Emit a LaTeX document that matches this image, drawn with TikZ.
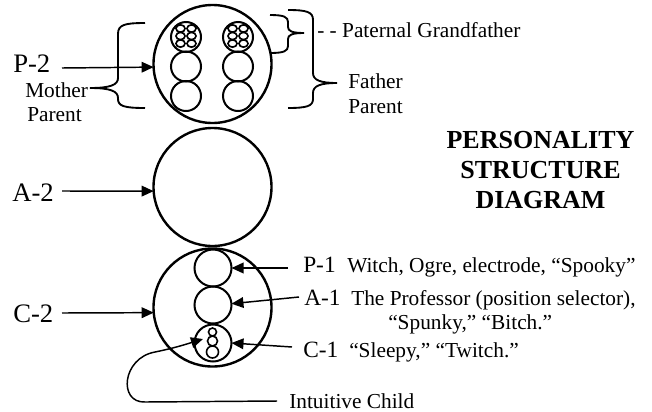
\documentclass[tikz,border=0pt]{standalone}
\usepackage{fontspec}
\setmainfont{Liberation Serif}
\usetikzlibrary{arrows.meta}
\begin{document}
\begin{tikzpicture}[x=0.75pt,y=-0.75pt,
  bigc/.style={circle,draw,line width=1.8pt,minimum size=88.5pt,inner sep=0pt,outer sep=0pt},
  midc/.style={circle,draw,line width=1.5pt,minimum size=22.5pt,inner sep=0pt,outer sep=0pt},
  kidc/.style={circle,draw,line width=1.5pt,minimum size=27.75pt,inner sep=0pt,outer sep=0pt},
  tinyc/.style={draw,line width=1.2pt},
  brace/.style={draw,line width=1.4pt},
  arr/.style={draw,line width=1.1pt,-{Triangle[length=9pt,width=8pt]}},
  biglab/.style={inner sep=0pt,anchor=base west,font=\fontsize{20}{24}\selectfont},
  rlab/.style={inner sep=0pt,anchor=base west,font=\fontsize{17.5}{20}\selectfont},
  txt/.style={inner sep=0pt,anchor=base west,font=\fontsize{16}{18}\selectfont},
  ttl/.style={inner sep=0pt,anchor=base,font=\fontsize{19.5}{22}\selectfont\bfseries}]
\useasboundingbox (0,0) rectangle (652,411);

% big circles
\node[bigc] (P2) at (212.5,64) {};
\node[bigc] (A2) at (212.5,187) {};
\node[bigc] (C2) at (212.5,307.5) {};

% P-2 inner circles
\node[midc] (Lg) at (186,37) {};
\node[midc] (Lm) at (186,66.5) {};
\node[midc] (Lb) at (186,96) {};
\node[midc] (Rg) at (238,37) {};
\node[midc] (Rm) at (238,66.5) {};
\node[midc] (Rb) at (238,96) {};
\foreach \cx in {186,238}{
  \foreach \dx in {-5.5,5.5}{
    \foreach \cy in {28.5,36,43.5}{
      \draw[tinyc] (\cx+\dx,\cy) ellipse [x radius=3.4pt, y radius=2.75pt];
    }
  }
}

% C-2 inner circles
\node[kidc] (P1) at (213,268) {};
\node[kidc] (A1) at (213,305) {};
\node[kidc] (C1) at (213,343) {};
\draw[tinyc] (212.5,332) circle [radius=3pt];
\draw[tinyc] (212.5,341) circle [radius=3.75pt];
\draw[tinyc] (212.5,352) circle [radius=4.5pt];

% left labels
\node[biglab] (P2lab) at (13,72) {P-2};
\node[biglab] (A2lab) at (12,201.5) {A-2};
\node[biglab] (C2lab) at (13,322) {C-2};
\coordinate (p2s) at (62,68);
\coordinate (a2s) at (62,191);
\coordinate (c2s) at (62,313);
\draw[arr] (p2s) -- (P2.183.5);
\draw[arr] (a2s) -- (A2.184);
\draw[arr] (c2s) -- (C2.185);

% mother parent
\node[txt] (moth) at (25,97) {Mother};
\node[txt] (mpar) at (27,121) {Parent};
\draw[brace] (145,23) .. controls (124,23) and (118,25) .. (118,34) -- (118,78)
  .. controls (118,85) and (110,88) .. (90,88)
  .. controls (110,88) and (118,91) .. (118,98) -- (118,99)
  .. controls (118,106) and (124,108) .. (145,108);

% paternal grandfather brace
\draw[brace] (270,15) .. controls (284,15) and (288,17) .. (288,22) -- (288,27)
  .. controls (288,31) and (292,33) .. (304,33)
  .. controls (292,33) and (288,35) .. (288,39) -- (288,46)
  .. controls (288,51) and (284,53) .. (270,53);
\node[txt] (pgf) at (317,37) {- - Paternal Grandfather};

% father parent brace
\draw[brace] (288,10) .. controls (307,10) and (313,12) .. (313,20) -- (313,73)
  .. controls (313,80) and (320,83) .. (337,83)
  .. controls (320,83) and (313,86) .. (313,93) -- (313,99)
  .. controls (313,106) and (307,108) .. (288,108);
\node[txt] (fath) at (348,88) {Father};
\node[txt] (fpar) at (348,113) {Parent};

% title
\node[ttl] (t1) at (540.5,148) {PERSONALITY};
\node[ttl] (t2) at (540.5,178) {STRUCTURE};
\node[ttl] (t3) at (540.5,208) {DIAGRAM};

% right labels
\node[rlab] (P1lab) at (303,272) {P-1};
\node[txt] (P1txt) at (347,272) {Witch, Ogre, electrode, “Spooky”};
\node[rlab] (A1lab) at (304,305) {A-1};
\node[txt] (A1txt) at (351,305) {The Professor (position selector),};
\node[txt] (A1txt2) at (388,329) {“Spunky,” “Bitch.”};
\node[rlab] (C1lab) at (303,357) {C-1};
\node[txt] (C1txt) at (349,357) {“Sleepy,” “Twitch.”};
\coordinate (p1s) at (288,268);
\coordinate (a1s) at (299,297);
\coordinate (c1s) at (292,347);
\draw[arr] (p1s) -- (P1.east);
\draw[arr] (a1s) -- (A1.4);
\draw[arr] (c1s) -- (C1.east);

% intuitive child
\node[txt] (ic) at (289,408) {Intuitive Child};
\coordinate (ics) at (277,401);
\coordinate (ict) at (203,339);
\draw[arr] (ics) -- (145,402) .. controls (118,403) and (122,358) .. (155,352)
  .. controls (175,348) and (190,343) .. (ict);
\end{tikzpicture}
\end{document}
